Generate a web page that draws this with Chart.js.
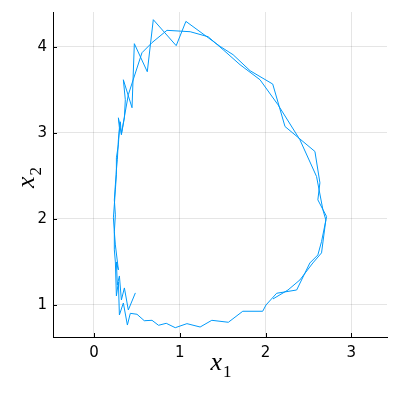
<!DOCTYPE html>
<html>
<head>
<meta charset="utf-8">
<script src="https://cdn.jsdelivr.net/npm/chart.js@4"></script>
<style>
  body { margin: 0; background: #fff; }
  canvas { display: block; }
</style>
</head>
<body>
<canvas id="phase" width="399" height="400"></canvas>
<script>
// trajectory (x1 horizontal, x2 vertical)
const x1 = [0.483, 0.401, 0.355, 0.320, 0.297, 0.273, 0.262, 0.285, 0.250, 0.238,
            0.250, 0.238, 0.250, 0.262, 0.273, 0.285, 0.308, 0.320, 0.355, 0.366,
            0.343, 0.444, 0.471, 0.622, 0.692, 0.959, 1.072, 1.331, 1.471, 1.622,
            1.820, 2.084, 2.227, 2.576, 2.634, 2.610, 2.712, 2.653, 2.610, 2.517,
            2.363, 2.130, 2.006, 1.967, 1.735, 1.567, 1.374, 1.238, 1.084, 0.948,
            0.843, 0.753, 0.677, 0.587, 0.502, 0.424, 0.390, 0.343, 0.297, 0.285,
            0.262, 0.250, 0.238, 0.238, 0.227, 0.238, 0.250, 0.262, 0.262, 0.285,
            0.297, 0.285, 0.320, 0.401, 0.560, 0.677, 0.851, 1.122, 1.331, 1.506,
            1.703, 1.936, 2.145, 2.401, 2.595, 2.669, 2.703, 2.653, 2.552, 2.401,
            2.262, 2.087];
const x2 = [1.140, 0.942, 1.198, 1.058, 1.337, 1.233, 1.500, 1.407, 1.698, 1.849,
            2.047, 2.221, 2.395, 2.570, 2.686, 2.919, 3.128, 2.977, 3.174, 3.384,
            3.616, 3.291, 4.035, 3.709, 4.314, 4.012, 4.294, 4.105, 4.003, 3.907,
            3.721, 3.566, 3.073, 2.783, 2.419, 2.221, 2.027, 1.736, 1.581, 1.488,
            1.174, 1.136, 1.000, 0.927, 0.927, 0.799, 0.822, 0.744, 0.783, 0.736,
            0.787, 0.764, 0.822, 0.817, 0.892, 0.903, 0.767, 1.023, 0.884, 1.267,
            1.105, 1.500, 1.640, 1.849, 2.012, 2.163, 2.337, 2.512, 2.709, 2.860,
            3.058, 3.174, 2.988, 3.442, 3.930, 4.047, 4.190, 4.174, 4.116, 3.965,
            3.791, 3.616, 3.326, 2.919, 2.492, 2.105, 1.988, 1.605, 1.488, 1.291,
            1.174, 1.070];
const xTicks = [0, 1, 2, 3];
const yTicks = [1, 2, 3, 4];

const points = x1.map((v, i) => ({ x: v, y: x2[i] }));

// Plots.jl style: inward tick marks and math-style axis titles
const extras = {
    id: 'extras',
    afterDraw(chart) {
        const ctx = chart.ctx;
        const a = chart.chartArea;
        const sx = chart.scales.x, sy = chart.scales.y;
        ctx.save();
        ctx.strokeStyle = '#000';
        ctx.lineWidth = 1;
        ctx.beginPath();
        xTicks.forEach(t => {
            const p = Math.round(sx.getPixelForValue(t)) + 0.5;
            ctx.moveTo(p, a.bottom); ctx.lineTo(p, a.bottom - 4);
        });
        yTicks.forEach(t => {
            const p = Math.round(sy.getPixelForValue(t)) + 0.5;
            ctx.moveTo(a.left, p); ctx.lineTo(a.left + 4, p);
        });
        ctx.stroke();

        ctx.fillStyle = '#000';
        ctx.textBaseline = 'alphabetic';
        // x_1
        const cx = (a.left + a.right) / 2;
        ctx.font = 'italic 26px "Liberation Serif"';
        ctx.textAlign = 'right';
        ctx.fillText('x', cx + 2, 370);
        ctx.font = '17px "Liberation Serif"';
        ctx.textAlign = 'left';
        ctx.fillText('1', cx + 3, 377);
        // x_2, rotated
        const cy = (a.top + a.bottom) / 2;
        ctx.translate(34, cy + 4);
        ctx.rotate(-Math.PI / 2);
        ctx.font = 'italic 26px "Liberation Serif"';
        ctx.textAlign = 'right';
        ctx.fillText('x', 2, 0);
        ctx.font = '17px "Liberation Serif"';
        ctx.textAlign = 'left';
        ctx.fillText('2', 3, 7);
        ctx.restore();
    }
};

new Chart(document.getElementById('phase'), {
    type: 'scatter',
    data: {
        datasets: [{
            data: points,
            showLine: true,
            borderColor: '#009afa',
            borderWidth: 1,
            pointRadius: 0,
            tension: 0
        }]
    },
    options: {
        responsive: false,
        animation: false,
        devicePixelRatio: 1,
        layout: { padding: { top: 12, right: 12, left: 0, bottom: 0 } },
        plugins: { legend: { display: false }, tooltip: { enabled: false } },
        scales: {
            x: {
                type: 'linear',
                min: -0.477,
                max: 3.416,
                afterBuildTicks: axis => { axis.ticks = xTicks.map(v => ({ value: v })); },
                afterFit: axis => { axis.height = 63; axis.paddingLeft = 0; axis.paddingRight = 0; },
                grid: { color: 'rgba(0,0,0,0.1)', drawTicks: false },
                border: { display: true, color: '#000', width: 1 },
                ticks: { color: '#000', padding: 7, font: { family: 'DejaVu Sans', size: 15 } }
            },
            y: {
                type: 'linear',
                min: 0.628,
                max: 4.403,
                afterBuildTicks: axis => { axis.ticks = yTicks.map(v => ({ value: v })); },
                afterFit: axis => { axis.width = 53; axis.paddingTop = 0; axis.paddingBottom = 0; },
                grid: { color: 'rgba(0,0,0,0.1)', drawTicks: false },
                border: { display: true, color: '#000', width: 1 },
                ticks: { color: '#000', padding: 6, font: { family: 'DejaVu Sans', size: 15 } }
            }
        }
    },
    plugins: [extras]
});
</script>
</body>
</html>
